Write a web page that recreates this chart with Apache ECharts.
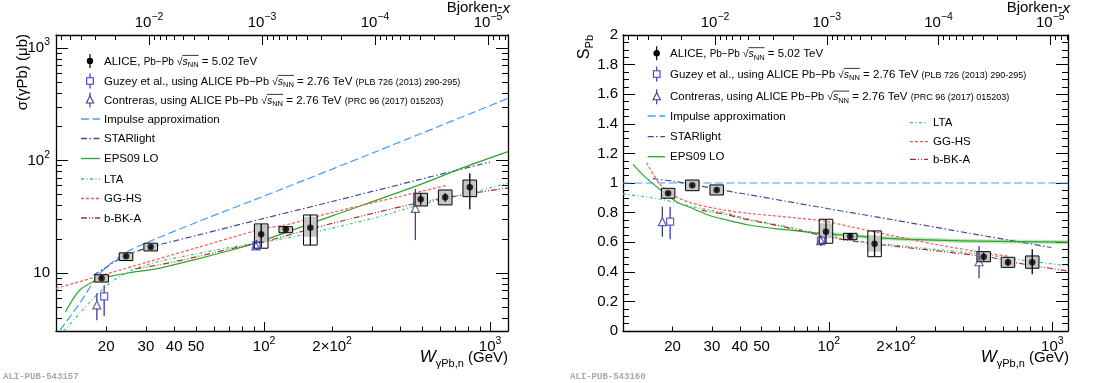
<!DOCTYPE html>
<html>
<head>
<meta charset="utf-8">
<script src="https://cdn.jsdelivr.net/npm/echarts@6/dist/echarts.min.js"></script>
<style>
  html, body { margin: 0; padding: 0; background: #fff; }
  #chart { width: 1110px; height: 383px; }
</style>
</head>
<body>
<div id="chart"></div>
<script>
const FONT = 'Liberation Sans';

// ---- axis ranges and tick marks
const M_JPSI = 3.097;
const W_MIN = 12, W_MAX_L = 1200, W_MAX_R = 1175;
const SIG_MIN = 3.05, SIG_MAX = 1305;

const W_MAJOR = [100, 1000];
const W_MINOR = [20, 30, 40, 50, 60, 70, 80, 90, 200, 300, 400, 500, 600, 700, 800, 900];
const W_LABEL_VAL = [20, 30, 40, 50, 100, 200, 1000];
const W_LABEL_TXT = ['20', '30', '40', '50', '10^2', '2×10^2', '10^3'];

const BX_MAJOR = [1e-2, 1e-3, 1e-4, 1e-5];
const BX_LABEL_TXT = ['10^−2', '10^−3', '10^−4', '10^−5'];
const BX_MANT = [2, 3, 4, 5, 6, 7, 8, 9];
const BX_EXP = [-6, -5, -4, -3, -2];

const SIG_MAJOR = [10, 100, 1000];
const SIG_MINOR = [4, 5, 6, 7, 8, 9, 20, 30, 40, 50, 60, 70, 80, 90, 200, 300, 400, 500, 600, 700, 800, 900];
const SIG_LABEL_TXT = ['10', '10^2', '10^3'];

const S_LABELS = ['0', '0.2', '0.4', '0.6', '0.8', '1', '1.2', '1.4', '1.6', '1.8', '2'];

// ---- ALICE data (left: cross section, right: suppression factor)
const W_ALICE = [19.1, 24.5, 31.5, 97.1, 124.7, 160.2, 493, 633, 813];

const SIG_ALICE = [9.0, 14.1, 17.0, 22.1, 24.5, 25.3, 45.2, 47.1, 57.8];
const SIG_STAT_LO = [8.7, 13.7, 16.5, 16.8, 23.6, 17.7, 40.5, 43.0, 36.8];
const SIG_STAT_HI = [9.3, 14.5, 17.5, 27.3, 25.4, 32.8, 50.5, 51.2, 77.1];
const SIG_BOX_LO = [8.3, 12.9, 15.7, 16.6, 22.8, 17.7, 39.4, 40.3, 47.7];
const SIG_BOX_HI = [9.65, 15.1, 18.4, 27.3, 25.8, 32.8, 51.1, 54.7, 67.0];
const SIG_GRAY_LO = [8.3, 12.9, 15.7, 19.0, 22.8, 21.0, 39.4, 40.3, 47.7];
const SIG_GRAY_HI = [9.65, 15.1, 18.4, 26.7, 25.8, 31.6, 51.1, 54.7, 67.0];

const S_ALICE = [0.930, 0.984, 0.953, 0.671, 0.640, 0.590, 0.502, 0.464, 0.464];
const S_STAT_LO = [0.92, 0.975, 0.943, 0.593, 0.628, 0.502, 0.475, 0.44, 0.383];
const S_STAT_HI = [0.94, 0.993, 0.963, 0.755, 0.652, 0.676, 0.53, 0.49, 0.552];
const S_BOX_LO = [0.897, 0.948, 0.919, 0.593, 0.617, 0.502, 0.468, 0.430, 0.424];
const S_BOX_HI = [0.964, 1.020, 0.987, 0.755, 0.660, 0.676, 0.536, 0.498, 0.507];
const S_GRAY_LO = [0.897, 0.948, 0.919, 0.626, 0.617, 0.536, 0.468, 0.430, 0.424];
const S_GRAY_HI = [0.964, 1.020, 0.987, 0.728, 0.660, 0.645, 0.536, 0.498, 0.507];

// ---- earlier extractions from 2.76 TeV data
const W_GUZEY_L = [19.6, 92.5];
const SIG_GUZEY = [6.2, 17.7];
const SIG_GUZEY_LO = [4.15, 16.0];
const SIG_GUZEY_HI = [7.8, 19.6];
const W_CONTR_L = [18.2, 92.0, 467];
const SIG_CONTR = [5.2, 17.4, 37.6];
const SIG_CONTR_LO = [3.8, 16.2, 19.6];
const SIG_CONTR_HI = [6.6, 18.8, 56.0];

const W_GUZEY_R = [19.5, 92.2];
const S_GUZEY = [0.739, 0.61];
const S_GUZEY_LO = [0.62, 0.575];
const S_GUZEY_HI = [0.84, 0.645];
const W_CONTR_R = [18.0, 92.0, 470];
const S_CONTR = [0.739, 0.61, 0.468];
const S_CONTR_LO = [0.637, 0.58, 0.356];
const S_CONTR_HI = [0.84, 0.64, 0.574];

// ---- model curves, left panel
const IA_W = [12.5, 15.3, 18.2, 20.6, 24.6, 31, 52, 117, 300, 600, 1200];
const IA_SIG = [3.1, 5.4, 9.2, 11.8, 15.3, 19.0, 29.0, 54.7, 116, 203, 357];
const STAR_W = [17.6, 20, 24.5, 31.8, 50, 100, 200, 470, 1000];
const STAR_SIG = [9.6, 11.2, 14.4, 17.1, 21.5, 30.6, 43.2, 66.5, 97];
const EPS_W = [13.2, 15.3, 18.2, 20.6, 25, 34.2, 52, 72, 95.7, 200, 500, 755, 1200];
const EPS_SIG = [4.5, 7.06, 8.67, 9.27, 10.0, 11.0, 13.5, 16.0, 19.0, 32.2, 62, 86, 120];
const LTA_W = [13.0, 15.3, 18.2, 21.6, 26.5, 34, 50, 70, 97, 150, 300, 493, 800, 1200];
const LTA_SIG = [3.05, 4.4, 6.4, 8.6, 10.8, 12.6, 14.8, 16.8, 18.6, 22, 30.5, 40.5, 51, 63];
const GG_W = [12, 19, 30, 50, 97, 125, 200, 400, 640];
const GG_SIG = [7.3, 9.5, 12.4, 16.7, 24.5, 26.8, 34.5, 48, 60];
const BK_W = [27, 35, 50, 73, 100, 200, 470, 800, 1200];
const BK_SIG = [10.9, 11.9, 13.9, 16.6, 19.0, 27.6, 41.6, 50.5, 57];

// ---- model curves, right panel
const IA_W_R = [12, 1175];
const IA_S = [1, 1];
const STAR_W_R = [16.3, 20.8, 31.8, 43.9, 65.8, 100, 184, 466, 990];
const STAR_S = [1.03, 1.009, 0.958, 0.921, 0.874, 0.826, 0.757, 0.65, 0.564];
const EPS_W_R = [13.3, 15.0, 17.7, 20.8, 24.5, 28.8, 33.9, 43.9, 60, 93, 125, 184, 366, 700, 1175];
const EPS_S = [1.126, 1.043, 0.953, 0.874, 0.829, 0.784, 0.755, 0.716, 0.688, 0.66, 0.645, 0.626, 0.61, 0.604, 0.60];
const GG_W_R = [15.3, 17.7, 20.8, 24.5, 33.9, 43.9, 93, 125, 184, 300, 516, 640];
const GG_S = [1.137, 0.986, 0.907, 0.863, 0.818, 0.795, 0.745, 0.705, 0.65, 0.585, 0.525, 0.505];
const LTA_W_R = [12, 15.0, 17.7, 20.8, 24.5, 33.9, 43.9, 60, 93, 125, 184, 516, 727, 1175];
const LTA_S = [0.926, 0.907, 0.89, 0.867, 0.84, 0.80, 0.755, 0.715, 0.655, 0.615, 0.585, 0.514, 0.48, 0.44];
const BK_W_R = [27, 34, 44, 60, 93, 125, 184, 516, 727, 1175];
const BK_S = [0.815, 0.79, 0.75, 0.71, 0.645, 0.61, 0.578, 0.5, 0.455, 0.405];

const C_IA = '#3f9fff', C_STAR = '#4646aa', C_EPS = '#2aa82a', C_LTA = '#33cc77',
      C_GG = '#ff5555', C_BK = '#b42828', C_GUZEY = '#3737d0', C_CONTR = '#3d3d8c';
const D_IA = [8, 3.5], D_STAR = [6, 2.5, 1.5, 2.5], D_LTA = [3, 2.5, 1, 2.5],
      D_GG = [3, 2], D_BK = [6, 2, 1, 2, 1, 2];
const BOX_F = 1.072;

const BX_MINOR = [];
BX_EXP.forEach(e => BX_MANT.forEach(k => BX_MINOR.push(k * Math.pow(10, e))));

function supFmt(vals, txts) {
  return v => {
    let k = 0, best = Infinity;
    vals.forEach((u, i) => {
      const d = Math.abs(Math.log(v / u));
      if (d < best) { best = d; k = i; }
    });
    const [base, sup] = txts[k].split('^');
    return sup ? `{n|${base}}{sup|${sup}}` : `{n|${base}}`;
  };
}

const LBL = {
  show: true, color: '#000', fontFamily: FONT, fontSize: 15, lineHeight: 20,
  rich: {
    n: { fontFamily: FONT, fontSize: 15, lineHeight: 20 },
    sup: { fontFamily: FONT, fontSize: 10.5, lineHeight: 20, padding: [0, 0, 11, 0] }
  }
};
const BLACK = { color: '#000', width: 1 };
const FRAME = { color: '#000', width: 1.3 };

function logAxis(o) {
  return {
    type: 'log', logBase: 10, gridIndex: o.grid, position: o.pos,
    min: o.min, max: o.max, inverse: !!o.inverse,
    axisLine: { show: !!o.line, onZero: false, lineStyle: FRAME },
    axisTick: { show: true, inside: true, length: o.len, customValues: o.ticks, lineStyle: BLACK },
    axisLabel: o.labels ? Object.assign({}, LBL, o.labels) : { show: false },
    splitLine: { show: false }, minorTick: { show: false }, minorSplitLine: { show: false }
  };
}

function xAxesFor(g, wmax) {
  const bmin = Math.pow(M_JPSI / wmax, 2), bmax = Math.pow(M_JPSI / W_MIN, 2);
  return [
    logAxis({ grid: g, pos: 'bottom', min: W_MIN, max: wmax, line: true, len: 9, ticks: W_MAJOR,
      labels: { margin: 6, customValues: W_LABEL_VAL, formatter: supFmt(W_LABEL_VAL, W_LABEL_TXT) } }),
    logAxis({ grid: g, pos: 'bottom', min: W_MIN, max: wmax, len: 4.5, ticks: W_MINOR }),
    logAxis({ grid: g, pos: 'top', min: bmin, max: bmax, inverse: true, line: true, len: 10, ticks: BX_MAJOR,
      labels: { margin: 2, customValues: BX_MAJOR, formatter: supFmt(BX_MAJOR, BX_LABEL_TXT) } }),
    logAxis({ grid: g, pos: 'top', min: bmin, max: bmax, inverse: true, len: 5, ticks: BX_MINOR })
  ];
}

const yAxes = [
  logAxis({ grid: 0, pos: 'left', min: SIG_MIN, max: SIG_MAX, line: true, len: 12, ticks: SIG_MAJOR,
    labels: { margin: 6, customValues: SIG_MAJOR, formatter: supFmt(SIG_MAJOR, SIG_LABEL_TXT) } }),
  logAxis({ grid: 0, pos: 'left', min: SIG_MIN, max: SIG_MAX, len: 6, ticks: SIG_MINOR }),
  logAxis({ grid: 0, pos: 'right', min: SIG_MIN, max: SIG_MAX, line: true, len: 12, ticks: SIG_MAJOR }),
  logAxis({ grid: 0, pos: 'right', min: SIG_MIN, max: SIG_MAX, len: 6, ticks: SIG_MINOR })
];
[['left', true], ['right', false]].forEach(([pos, lab]) => {
  yAxes.push({
    type: 'value', gridIndex: 1, position: pos, min: 0, max: 2, interval: 0.2,
    axisLine: { show: true, onZero: false, lineStyle: FRAME },
    axisTick: { show: true, inside: true, length: 12, lineStyle: BLACK },
    minorTick: { show: true, splitNumber: 4, length: 6, lineStyle: BLACK },
    axisLabel: lab ? { color: '#000', fontFamily: FONT, fontSize: 15, margin: 5,
      formatter: v => S_LABELS[Math.round(v / 0.2)] } : { show: false },
    splitLine: { show: false }
  });
});

function curve(xs, ys, color, dash, xi, yi, width) {
  return {
    type: 'line', xAxisIndex: xi, yAxisIndex: yi, silent: true, z: 2,
    data: xs.map((x, i) => [x, ys[i]]), showSymbol: false, symbol: 'none',
    smooth: 0.3,
    lineStyle: { color, width: width || 1.2, type: dash || 'solid' }
  };
}

function aliceBoxes(xi, yi, ys, bLo, bHi, gLo, gHi, sLo, sHi) {
  return {
    type: 'custom', xAxisIndex: xi, yAxisIndex: yi, z: 3, silent: true,
    data: W_ALICE.map((w, i) => [w, ys[i], bLo[i], bHi[i], gLo[i], gHi[i], sLo[i], sHi[i]]),
    encode: { x: 0, y: 1 },
    renderItem: (p, api) => {
      const w = api.value(0);
      const b0 = api.coord([w / BOX_F, api.value(2)]), b1 = api.coord([w * BOX_F, api.value(3)]);
      const g0 = api.coord([w / BOX_F, api.value(4)]), g1 = api.coord([w * BOX_F, api.value(5)]);
      const s0 = api.coord([w, api.value(6)]), s1 = api.coord([w, api.value(7)]);
      return { type: 'group', children: [
        { type: 'rect', shape: { x: g0[0], y: g1[1], width: g1[0] - g0[0], height: g0[1] - g1[1] },
          style: { fill: '#c6c6c6' } },
        { type: 'rect', shape: { x: b0[0], y: b1[1], width: b1[0] - b0[0], height: b0[1] - b1[1] },
          style: { fill: 'none', stroke: '#000', lineWidth: 1 } },
        { type: 'line', shape: { x1: s0[0], y1: s0[1], x2: s1[0], y2: s1[1] },
          style: { stroke: '#000', lineWidth: 1.3 } }
      ] };
    }
  };
}

function openErr(xs, ys, lo, hi, color, xi, yi, gap) {
  return {
    type: 'custom', xAxisIndex: xi, yAxisIndex: yi, z: 4, silent: true,
    data: xs.map((x, i) => [x, ys[i], lo[i], hi[i]]),
    encode: { x: 0, y: 1 },
    renderItem: (p, api) => {
      const c = api.coord([api.value(0), api.value(1)]);
      const a = api.coord([api.value(0), api.value(3)]);
      const b = api.coord([api.value(0), api.value(2)]);
      return { type: 'group', children: [
        { type: 'line', shape: { x1: c[0], y1: a[1], x2: c[0], y2: c[1] - gap }, style: { stroke: color, lineWidth: 1.3 } },
        { type: 'line', shape: { x1: c[0], y1: c[1] + gap, x2: c[0], y2: b[1] }, style: { stroke: color, lineWidth: 1.3 } }
      ] };
    }
  };
}

function marks(xs, ys, symbol, size, color, open, xi, yi) {
  return {
    type: 'scatter', xAxisIndex: xi, yAxisIndex: yi, z: 5, silent: true,
    data: xs.map((x, i) => [x, ys[i]]), symbol, symbolSize: size,
    itemStyle: open ? { color: 'rgba(0,0,0,0)', borderColor: color, borderWidth: 1.2 } : { color }
  };
}

const series = [
  curve(IA_W, IA_SIG, C_IA, D_IA, 0, 0),
  curve(STAR_W, STAR_SIG, C_STAR, D_STAR, 0, 0),
  curve(EPS_W, EPS_SIG, C_EPS, 'solid', 0, 0),
  curve(LTA_W, LTA_SIG, C_LTA, D_LTA, 0, 0),
  curve(GG_W, GG_SIG, C_GG, D_GG, 0, 0),
  curve(BK_W, BK_SIG, C_BK, D_BK, 0, 0),
  aliceBoxes(0, 0, SIG_ALICE, SIG_BOX_LO, SIG_BOX_HI, SIG_GRAY_LO, SIG_GRAY_HI, SIG_STAT_LO, SIG_STAT_HI),
  openErr(W_GUZEY_L, SIG_GUZEY, SIG_GUZEY_LO, SIG_GUZEY_HI, C_GUZEY, 0, 0, 3.5),
  openErr(W_CONTR_L, SIG_CONTR, SIG_CONTR_LO, SIG_CONTR_HI, C_CONTR, 0, 0, 4),
  marks(W_ALICE, SIG_ALICE, 'circle', 6.5, '#000', false, 0, 0),
  marks(W_GUZEY_L, SIG_GUZEY, 'rect', 7, C_GUZEY, true, 0, 0),
  marks(W_CONTR_L, SIG_CONTR, 'triangle', 8, C_CONTR, true, 0, 0),

  curve(IA_W_R, IA_S, C_IA, D_IA, 4, 4),
  curve(STAR_W_R, STAR_S, C_STAR, D_STAR, 4, 4),
  curve(EPS_W_R.filter(w => w >= 90), EPS_S.filter((s, i) => EPS_W_R[i] >= 90), 'rgba(42,168,42,0.3)', 'solid', 4, 4, 4),
  curve(EPS_W_R, EPS_S, C_EPS, 'solid', 4, 4),
  curve(LTA_W_R, LTA_S, C_LTA, D_LTA, 4, 4),
  curve(GG_W_R, GG_S, C_GG, D_GG, 4, 4),
  curve(BK_W_R, BK_S, C_BK, D_BK, 4, 4),
  aliceBoxes(4, 4, S_ALICE, S_BOX_LO, S_BOX_HI, S_GRAY_LO, S_GRAY_HI, S_STAT_LO, S_STAT_HI),
  openErr(W_GUZEY_R, S_GUZEY, S_GUZEY_LO, S_GUZEY_HI, C_GUZEY, 4, 4, 3.5),
  openErr(W_CONTR_R, S_CONTR, S_CONTR_LO, S_CONTR_HI, C_CONTR, 4, 4, 4),
  marks(W_ALICE, S_ALICE, 'circle', 6.5, '#000', false, 4, 4),
  marks(W_GUZEY_R, S_GUZEY, 'rect', 7, C_GUZEY, true, 4, 4),
  marks(W_CONTR_R, S_CONTR, 'triangle', 8, C_CONTR, true, 4, 4)
];

// ---- text helpers (legend, titles)
const ctx = document.createElement('canvas').getContext('2d');
function tw(t, size, italic) {
  ctx.font = `${italic ? 'italic ' : ''}${size}px "${FONT}"`;
  return ctx.measureText(t).width;
}
function rowWidth(segs) { return segs.reduce((s, g) => s + tw(g.t, g.size, g.italic), 0); }
function segText(els, x, base, segs) {
  let cx = x, olStart = null, olEnd = null;
  segs.forEach(s => {
    const w = tw(s.t, s.size, s.italic);
    els.push({ type: 'text', x: cx, y: base - 0.31 * s.size + (s.dy || 0), silent: true,
      style: { text: s.t, fontSize: s.size, fontFamily: FONT, fontStyle: s.italic ? 'italic' : 'normal',
        fill: '#000', align: 'left', verticalAlign: 'middle' } });
    if (s.ol) { if (olStart === null) olStart = cx; olEnd = cx + w; }
    cx += w;
  });
  if (olStart !== null) {
    els.push({ type: 'line', silent: true, shape: { x1: olStart, y1: base - 9.6, x2: olEnd, y2: base - 9.6 },
      style: { stroke: '#000', lineWidth: 0.8 } });
  }
  return cx;
}
const sqrtS = [
  { t: '√', size: 10.5 },
  { t: 's', size: 10.5, italic: true, ol: true },
  { t: 'NN', size: 7.5, dy: 2.5, ol: true }
];
const LEG_ALICE = [{ t: 'ALICE, ', size: 11.5 }, { t: 'Pb−Pb ', size: 10 }, ...sqrtS, { t: ' = 5.02 TeV', size: 11.5 }];
const LEG_GUZEY = [{ t: 'Guzey et al.', size: 11.5 }, { t: ', using ALICE Pb−Pb ', size: 11 }, ...sqrtS,
  { t: ' = 2.76 TeV ', size: 11.5 }, { t: '(PLB 726 (2013) 290-295)', size: 9 }];
const LEG_CONTR = [{ t: 'Contreras', size: 11.5 }, { t: ', using ALICE Pb−Pb ', size: 11 }, ...sqrtS,
  { t: ' = 2.76 TeV ', size: 11.5 }, { t: '(PRC 96 (2017) 015203)', size: 9 }];
const plain = t => [{ t, size: 11.5 }];

const graphic = [];
function legLine(x1, x2, y, color, dash) {
  graphic.push({ type: 'line', silent: true, shape: { x1, y1: y, x2, y2: y },
    style: { stroke: color, lineWidth: 1.3, lineDash: dash || null } });
}
function legAlice(x, y) {
  graphic.push({ type: 'line', silent: true, shape: { x1: x, y1: y - 7, x2: x, y2: y + 7 }, style: { stroke: '#000', lineWidth: 1.2 } });
  graphic.push({ type: 'circle', silent: true, shape: { cx: x, cy: y, r: 3.2 }, style: { fill: '#000' } });
}
function legGuzey(x, y) {
  graphic.push({ type: 'line', silent: true, shape: { x1: x, y1: y - 7.5, x2: x, y2: y - 3.3 }, style: { stroke: C_GUZEY, lineWidth: 1.2 } });
  graphic.push({ type: 'line', silent: true, shape: { x1: x, y1: y + 3.3, x2: x, y2: y + 7.5 }, style: { stroke: C_GUZEY, lineWidth: 1.2 } });
  graphic.push({ type: 'rect', silent: true, shape: { x: x - 3.3, y: y - 3.3, width: 6.6, height: 6.6 }, style: { fill: 'none', stroke: C_GUZEY, lineWidth: 1.1 } });
}
function legContr(x, y) {
  graphic.push({ type: 'line', silent: true, shape: { x1: x, y1: y - 7.5, x2: x, y2: y - 4 }, style: { stroke: C_CONTR, lineWidth: 1.2 } });
  graphic.push({ type: 'line', silent: true, shape: { x1: x, y1: y + 3, x2: x, y2: y + 7.5 }, style: { stroke: C_CONTR, lineWidth: 1.2 } });
  graphic.push({ type: 'polygon', silent: true, shape: { points: [[x, y - 4.2], [x - 3.6, y + 3], [x + 3.6, y + 3]] }, style: { fill: 'none', stroke: C_CONTR, lineWidth: 1.1 } });
}

// left legend
{
  const mx = 90, lx1 = 81, lx2 = 100, tx = 104;
  const R = [61, 81, 100, 119, 138.5, 158.5, 179, 198.5, 218];
  legAlice(mx, R[0]); segText(graphic, tx, R[0] + 4, LEG_ALICE);
  legGuzey(mx, R[1]); segText(graphic, tx, R[1] + 4, LEG_GUZEY);
  legContr(mx, R[2]); segText(graphic, tx, R[2] + 4, LEG_CONTR);
  const lines = [['Impulse approximation', C_IA, D_IA], ['STARlight', C_STAR, D_STAR], ['EPS09 LO', C_EPS, null],
    ['LTA', C_LTA, D_LTA], ['GG-HS', C_GG, D_GG], ['b-BK-A', C_BK, D_BK]];
  lines.forEach(([t, c, d], i) => { legLine(lx1, lx2, R[3 + i], c, d); segText(graphic, tx, R[3 + i] + 4, plain(t)); });
}
// right legend
{
  const mx = 656.7, lx1 = 647.7, lx2 = 665, tx = 670;
  const R = [53.3, 74, 96.7, 116, 136.7, 156.7];
  legAlice(mx, R[0]); segText(graphic, tx, R[0] + 4, LEG_ALICE);
  legGuzey(mx, R[1]); segText(graphic, tx, R[1] + 4, LEG_GUZEY);
  legContr(mx, R[2]); segText(graphic, tx, R[2] + 4, LEG_CONTR);
  [['Impulse approximation', C_IA, D_IA], ['STARlight', C_STAR, D_STAR], ['EPS09 LO', C_EPS, null]]
    .forEach(([t, c, d], i) => { legLine(lx1, lx2, R[3 + i], c, d); segText(graphic, tx, R[3 + i] + 4, plain(t)); });
  const R2 = [122.7, 141.7, 159.3];
  [['LTA', C_LTA, D_LTA], ['GG-HS', C_GG, D_GG], ['b-BK-A', C_BK, D_BK]]
    .forEach(([t, c, d], i) => { legLine(910, 928, R2[i], c, d); segText(graphic, 933, R2[i] + 4, plain(t)); });
}

// axis titles
const T_W = [{ t: 'W', size: 17, italic: true }, { t: 'γPb,n', size: 11, dy: 4 }, { t: ' (GeV)', size: 15 }];
const T_BX = [{ t: 'Bjorken-', size: 15 }, { t: 'x', size: 15, italic: true }];
[[508, 510], [1069, 1070]].forEach(([rw, rb]) => {
  segText(graphic, rw - rowWidth(T_W), 363, T_W);
  segText(graphic, rb - rowWidth(T_BX), 13, T_BX);
});
graphic.push({ type: 'text', x: 23, y: 34, rotation: Math.PI / 2, silent: true,
  style: { text: 'σ(γPb) (μb)', fontSize: 15, fontFamily: FONT, fill: '#000', align: 'right', verticalAlign: 'middle' } });
{
  const wS = tw('S', 16), wP = tw('Pb', 11);
  const yStart = 35 + wS + wP;
  graphic.push({ type: 'text', x: 584.5, y: yStart, rotation: Math.PI / 2, silent: true,
    style: { text: 'S', fontSize: 16, fontFamily: FONT, fill: '#000', align: 'left', verticalAlign: 'middle' } });
  graphic.push({ type: 'text', x: 589.5, y: yStart - wS, rotation: Math.PI / 2, silent: true,
    style: { text: 'Pb', fontSize: 11, fontFamily: FONT, fill: '#000', align: 'left', verticalAlign: 'middle' } });
}
[[3, 'ALI-PUB-543157'], [570, 'ALI-PUB-543160']].forEach(([x, t]) => {
  graphic.push({ type: 'text', x, y: 377, silent: true,
    style: { text: t, fontSize: 9, fontWeight: 'bold', fontFamily: 'Liberation Mono', fill: '#a8a8a8', align: 'left', verticalAlign: 'middle' } });
});

const chart = echarts.init(document.getElementById('chart'));
chart.setOption({
  animation: false,
  backgroundColor: '#fff',
  grid: [
    { left: 56, top: 35, width: 452, height: 296 },
    { left: 623, top: 35, width: 445, height: 296 }
  ],
  xAxis: [...xAxesFor(0, W_MAX_L), ...xAxesFor(1, W_MAX_R)],
  yAxis: yAxes,
  series,
  graphic
});
</script>
</body>
</html>
